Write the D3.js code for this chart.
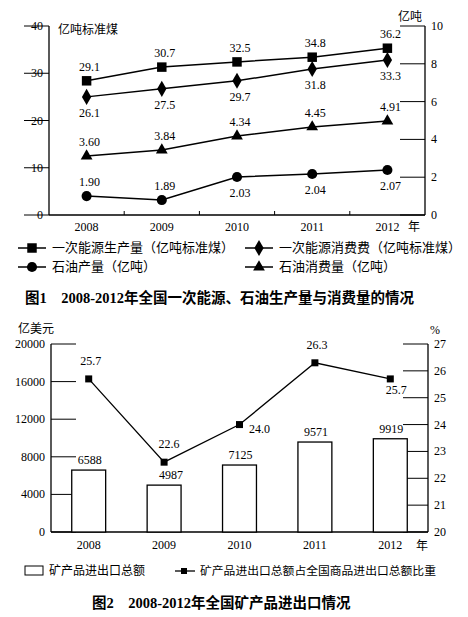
<!DOCTYPE html>
<html><head><meta charset="utf-8">
<script src="https://cdn.jsdelivr.net/npm/d3@7"></script>
<style>body{margin:0;background:#fff}svg text{font-family:"Liberation Serif","Noto Sans CJK SC",serif;fill:#000}</style>
</head><body><svg id="c" width="468" height="617"></svg>
<script>
const years=["2008","2009","2010","2011","2012"];
const energyProd=[28.4,31.3,32.4,33.4,35.3];
const energyProdLbl=["29.1","30.7","32.5","34.8","36.2"];
const energyCons=[25.0,26.7,28.4,30.9,32.8];
const energyConsLbl=["26.1","27.5","29.7","31.8","33.3"];
const oilCons=[3.12,3.44,4.18,4.66,4.97];
const oilConsLbl=["3.60","3.84","4.34","4.45","4.91"];
const oilProd=[1.0,0.79,2.01,2.17,2.38];
const oilProdLbl=["1.90","1.89","2.03","2.04","2.07"];
const leftTicks1=[0,10,20,30,40], rightTicks1=[0,2,4,6,8,10];
// Figure 2
const mineral=[6588,4987,7125,9571,9919];
const share=[25.7,22.6,24.0,26.3,25.7];
const leftTicks2=[0,4000,8000,12000,16000,20000], rightTicks2=[20,21,22,23,24,25,26,27];

const svg=d3.select("#c");
const CJK='"Noto Sans CJK SC",sans-serif';
function yAxis(g,scale,ticks,side,dir){
  g.append("line").attr("x1",0).attr("x2",0).attr("y1",scale.range()[0]).attr("y2",scale.range()[1]).attr("stroke","#000").attr("stroke-width",1.3);
  ticks.forEach(t=>{const y=scale(t);
    g.append("line").attr("x1",0).attr("x2",dir*5).attr("y1",y).attr("y2",y).attr("stroke","#000");
    g.append("text").attr("x",side<0?-6:6).attr("y",y+4).attr("text-anchor",side<0?"end":"start").attr("font-size",12).text(t);});
}
// ---------- Figure 1
{
const L=49,R=425,T=26,B=215;
const x=d3.scaleBand().domain(years).range([L,R]);
const yl=d3.scaleLinear().domain([0,40]).range([B,T]);
const yr=d3.scaleLinear().domain([0,10]).range([B,T]);
const g=svg.append("g");
yAxis(g.append("g").attr("transform",`translate(${L},0)`),yl,leftTicks1,-1,-5);
yAxis(g.append("g").attr("transform",`translate(${R},0)`),yr,rightTicks1,1,-5);
g.append("line").attr("x1",L).attr("x2",R).attr("y1",B).attr("y2",B).attr("stroke","#000").attr("stroke-width",1.3);
years.slice(1).forEach(yv=>g.append("line").attr("x1",x(yv)).attr("x2",x(yv)).attr("y1",B).attr("y2",B-4).attr("stroke","#000"));
years.forEach(yv=>g.append("text").attr("x",x(yv)+x.bandwidth()/2).attr("y",B+16).attr("text-anchor","middle").attr("font-size",12).text(yv));
g.append("text").attr("x",408).attr("y",B+16).attr("font-family",CJK).attr("font-size",12).text("年");
g.append("text").attr("x",58).attr("y",34).attr("font-family",CJK).attr("font-size",12).text("亿吨标准煤");
g.append("text").attr("x",398).attr("y",21).attr("font-family",CJK).attr("font-size",12).text("亿吨");
const cx=d=>x(d)+x.bandwidth()/2;
const line=(vals,ys)=>d3.line().x((d,i)=>cx(years[i])).y(d=>ys(d))(vals);
const sym={sq:d3.symbolSquare,di:d3.symbolDiamond,ci:d3.symbolCircle,tr:d3.symbolTriangle};
const size={sq:90,di:75,ci:80,tr:60};
function series(vals,lbls,ys,s,pos){
  g.append("path").attr("d",line(vals,ys)).attr("fill","none").attr("stroke","#000").attr("stroke-width",1.5);
  vals.forEach((v,i)=>{
    g.append("path").attr("d",d3.symbol(sym[s],size[s])()).attr("transform",`translate(${cx(years[i])},${ys(v)})`);
    const up=pos[i]==="u";
    g.append("text").attr("x",cx(years[i])+3).attr("y",up?ys(v)-10:ys(v)+20).attr("text-anchor","middle").attr("font-size",12).text(lbls[i]);
  });
}
series(energyProd,energyProdLbl,yl,"sq","uuuuu");
series(energyCons,energyConsLbl,yl,"di","ddddd");
series(oilCons,oilConsLbl,yr,"tr","uuuuu");
series(oilProd,oilProdLbl,yr,"ci","uuddd");
const leg=[["sq","一次能源生产量（亿吨标准煤）",18,248],["di","一次能源消费费（亿吨标准煤）",245,248],["ci","石油产量（亿吨）",18,267],["tr","石油消费量（亿吨）",245,267]];
leg.forEach(([s,t,lx,ly])=>{
  g.append("line").attr("x1",lx).attr("x2",lx+28).attr("y1",ly).attr("y2",ly).attr("stroke","#000").attr("stroke-width",1.5);
  g.append("path").attr("d",d3.symbol(sym[s],size[s])()).attr("transform",`translate(${lx+14},${ly})`);
  g.append("text").attr("x",lx+34).attr("y",ly+4).attr("font-family",CJK).attr("font-size",13).text(t);
});
g.append("text").attr("x",25).attr("y",303).attr("font-family",CJK).attr("font-weight","bold").attr("font-size",14.5).text("图1　2008-2012年全国一次能源、石油生产量与消费量的情况");
}
// ---------- Figure 2
{
const L=51,R=428,T=344,B=532;
const x=d3.scaleBand().domain(years).range([L,R]).paddingInner(0.55).paddingOuter(0.275);
const yl=d3.scaleLinear().domain([0,20000]).range([B,T]);
const yr=d3.scaleLinear().domain([20,27]).range([B,T]);
const g=svg.append("g");
yAxis(g.append("g").attr("transform",`translate(${L},0)`),yl,leftTicks2,-1,5);
yAxis(g.append("g").attr("transform",`translate(${R},0)`),yr,rightTicks2,1,-5);
g.append("line").attr("x1",L).attr("x2",R).attr("y1",B).attr("y2",B).attr("stroke","#000").attr("stroke-width",1.3);
years.forEach(yv=>g.append("text").attr("x",x(yv)+x.bandwidth()/2).attr("y",B+17).attr("text-anchor","middle").attr("font-size",12).text(yv));
g.append("text").attr("x",416).attr("y",B+18).attr("font-family",CJK).attr("font-size",12).text("年");
g.append("text").attr("x",18).attr("y",333).attr("font-family",CJK).attr("font-size",12).text("亿美元");
g.append("text").attr("x",430).attr("y",334).attr("font-size",12).text("%");
const cx=d=>x(d)+x.bandwidth()/2;
mineral.forEach((v,i)=>{
  g.append("rect").attr("x",x(years[i])).attr("y",yl(v)).attr("width",x.bandwidth()).attr("height",B-yl(v)).attr("fill","#fff").attr("stroke","#000").attr("stroke-width",1.3);
  g.append("text").attr("x",cx(years[i])+(i==1?7:1)).attr("y",yl(v)-6).attr("text-anchor","middle").attr("font-size",12).text(v);
});
g.append("path").attr("d",d3.line().x((d,i)=>cx(years[i])).y(d=>yr(d))(share)).attr("fill","none").attr("stroke","#000").attr("stroke-width",1.3);
const off=[[2,-14],[5,-14],[20,8],[2,-14],[6,15]];
share.forEach((v,i)=>{
  g.append("rect").attr("x",cx(years[i])-3.5).attr("y",yr(v)-3.5).attr("width",7).attr("height",7);
  g.append("text").attr("x",cx(years[i])+off[i][0]).attr("y",yr(v)+off[i][1]).attr("text-anchor","middle").attr("font-size",12).text(v.toFixed(1));
});
g.append("rect").attr("x",25).attr("y",566).attr("width",18).attr("height",9).attr("fill","#fff").attr("stroke","#000");
g.append("text").attr("x",49).attr("y",575).attr("font-family",CJK).attr("font-size",12).text("矿产品进出口总额");
g.append("line").attr("x1",175).attr("x2",195).attr("y1",571).attr("y2",571).attr("stroke","#000").attr("stroke-width",1.3);
g.append("rect").attr("x",181).attr("y",568).attr("width",6).attr("height",6);
g.append("text").attr("x",200).attr("y",575).attr("font-family",CJK).attr("font-size",11.8).text("矿产品进出口总额占全国商品进出口总额比重");
g.append("text").attr("x",92).attr("y",608).attr("font-family",CJK).attr("font-weight","bold").attr("font-size",14.5).text("图2　2008-2012年全国矿产品进出口情况");
}
</script></body></html>
